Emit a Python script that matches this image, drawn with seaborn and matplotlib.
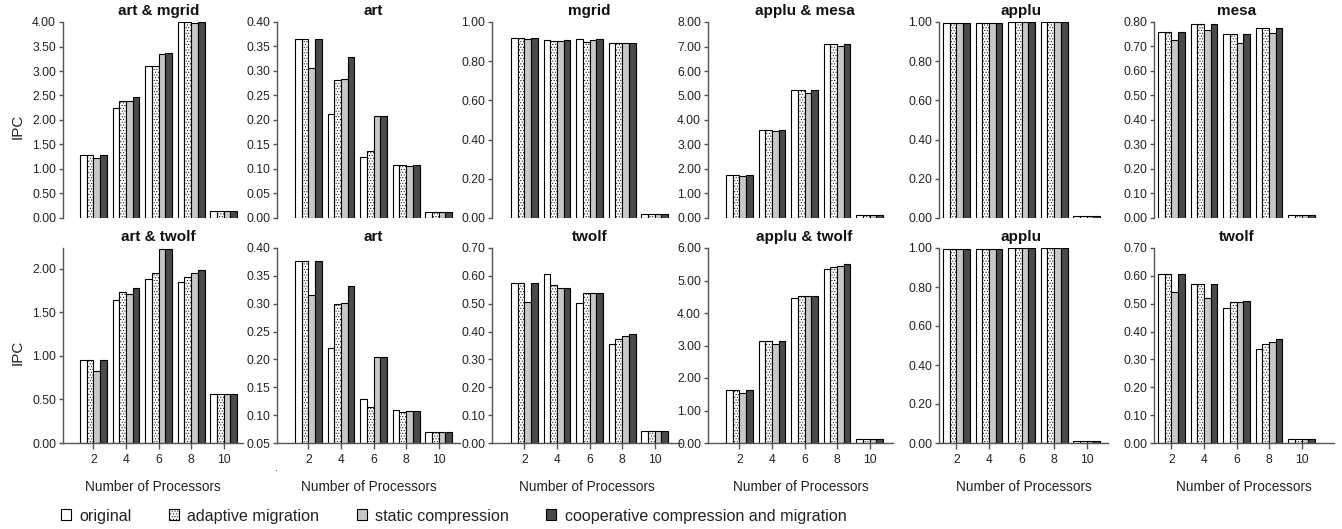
import numpy as np
import pandas as pd
import matplotlib
matplotlib.use("Agg")
import matplotlib.pyplot as plt
import matplotlib.transforms as mtransforms
from matplotlib.patches import Patch
import seaborn as sns

# ---------------- data ----------------
processors = ["2", "4", "6", "8", "10"]
series = ["original", "adaptive migration", "static compression",
          "cooperative compression and migration"]

# top row
art_mgrid = [[1.29, 2.25, 3.10, 3.99, 0.14],
             [1.29, 2.38, 3.10, 3.99, 0.14],
             [1.22, 2.38, 3.34, 3.98, 0.14],
             [1.29, 2.47, 3.36, 3.99, 0.14]]
art_top = [[0.365, 0.213, 0.124, 0.109, 0.012],
           [0.365, 0.281, 0.137, 0.109, 0.012],
           [0.306, 0.284, 0.208, 0.107, 0.012],
           [0.365, 0.329, 0.208, 0.109, 0.012]]
mgrid = [[0.917, 0.910, 0.912, 0.891, 0.019],
         [0.917, 0.905, 0.896, 0.891, 0.019],
         [0.912, 0.903, 0.906, 0.891, 0.019],
         [0.917, 0.906, 0.912, 0.891, 0.019]]
applu_mesa = [[1.75, 3.60, 5.23, 7.09, 0.12],
              [1.75, 3.60, 5.23, 7.09, 0.12],
              [1.71, 3.54, 5.12, 7.02, 0.12],
              [1.75, 3.60, 5.23, 7.09, 0.12]]
applu_top = [[0.995, 0.995, 0.998, 0.998, 0.010],
             [0.995, 0.995, 0.998, 0.998, 0.010],
             [0.995, 0.995, 0.998, 0.998, 0.010],
             [0.995, 0.995, 0.998, 0.998, 0.010]]
mesa = [[0.759, 0.792, 0.752, 0.777, 0.014],
        [0.759, 0.792, 0.752, 0.777, 0.014],
        [0.727, 0.769, 0.716, 0.756, 0.014],
        [0.759, 0.792, 0.752, 0.777, 0.014]]

# bottom row
art_twolf = [[0.948, 1.644, 1.889, 1.851, 0.566],
             [0.948, 1.732, 1.954, 1.908, 0.566],
             [0.826, 1.713, 2.230, 1.958, 0.566],
             [0.948, 1.778, 2.230, 1.992, 0.566]]
art_bottom = [[0.377, 0.221, 0.129, 0.110, 0.070],
              [0.377, 0.299, 0.114, 0.106, 0.070],
              [0.315, 0.301, 0.205, 0.108, 0.070],
              [0.377, 0.332, 0.205, 0.108, 0.070]]
twolf_mid = [[0.576, 0.605, 0.503, 0.356, 0.043],
             [0.576, 0.567, 0.539, 0.375, 0.043],
             [0.505, 0.558, 0.539, 0.385, 0.043],
             [0.576, 0.558, 0.539, 0.392, 0.043]]
applu_twolf = [[1.62, 3.13, 4.46, 5.36, 0.11],
               [1.62, 3.13, 4.52, 5.42, 0.11],
               [1.55, 3.04, 4.52, 5.46, 0.11],
               [1.62, 3.14, 4.53, 5.50, 0.11]]
applu_bottom = [[0.995, 0.997, 1.000, 1.000, 0.010],
                [0.995, 0.997, 1.000, 1.000, 0.010],
                [0.995, 0.997, 1.000, 1.000, 0.010],
                [0.995, 0.997, 1.000, 1.000, 0.010]]
twolf_right = [[0.608, 0.569, 0.486, 0.339, 0.014],
               [0.608, 0.569, 0.507, 0.355, 0.014],
               [0.542, 0.521, 0.507, 0.363, 0.014],
               [0.608, 0.569, 0.510, 0.373, 0.014]]

top_titles = ["art & mgrid", "art", "mgrid", "applu & mesa", "applu", "mesa"]
bottom_titles = ["art & twolf", "art", "twolf", "applu & twolf", "applu", "twolf"]
top_data = [art_mgrid, art_top, mgrid, applu_mesa, applu_top, mesa]
bottom_data = [art_twolf, art_bottom, twolf_mid, applu_twolf, applu_bottom, twolf_right]

# y-axis (ymin, ymax, tick0, tick1, step)
top_yaxis = [(0, 4.0, 0, 4.0, 0.5), (0, 0.40, 0, 0.40, 0.05), (0, 1.0, 0, 1.0, 0.2),
             (0, 8.0, 0, 8.0, 1.0), (0, 1.0, 0, 1.0, 0.2), (0, 0.80, 0, 0.80, 0.1)]
bottom_yaxis = [(0, 2.24, 0, 2.0, 0.5), (0.05, 0.40, 0.05, 0.40, 0.05), (0, 0.70, 0, 0.70, 0.1),
                (0, 6.0, 0, 6.0, 1.0), (0, 1.0, 0, 1.0, 0.2), (0, 0.70, 0, 0.70, 0.1)]

# ---------------- style ----------------
sns.set_theme(style="white")
plt.rcParams["font.family"] = ["Liberation Sans", "DejaVu Sans"]
plt.rcParams["hatch.linewidth"] = 0.4
plt.rcParams["hatch.color"] = "black"

W, H = 1342, 529
fig = plt.figure(figsize=(W / 100, H / 100), dpi=100)
fig.patch.set_facecolor("white")

palette = ["#ffffff", "#ffffff", "#c8c8c8", "#4a4a4a"]
hatches = ["", "......", "", ""]
spine_col = "#555555"

axis_x = [63, 277, 492, 708, 939, 1154]
first_group_left = [80, 295, 511, 726, 943, 1158]
right_px = [243, 460, 681, 893, 1108, 1334]
pitch = 32.6
group_w = 26.7
rows = [(22, 218), (248, 443)]  # (top px, bottom px)


def make_df(d):
    recs = []
    for s, vals in zip(series, d):
        for p, v in zip(processors, vals):
            recs.append({"proc": p, "series": s, "ipc": v})
    return pd.DataFrame(recs)


for r, (titles, datas, yaxes) in enumerate([(top_titles, top_data, top_yaxis),
                                             (bottom_titles, bottom_data, bottom_yaxis)]):
    top_px, bot_px = rows[r]
    for c in range(6):
        left = axis_x[c]
        right = right_px[c]
        ax = fig.add_axes([left / W, 1 - bot_px / H, (right - left) / W, (bot_px - top_px) / H])
        df = make_df(datas[c])
        sns.barplot(data=df, x="proc", y="ipc", hue="series", order=processors,
                    hue_order=series, palette=palette, width=group_w / pitch,
                    edgecolor="black", linewidth=0.8, legend=False, ax=ax,
                    saturation=1, err_kws={"linewidth": 0})
        for cont, h in zip(ax.containers, hatches):
            for b in cont:
                b.set_hatch(h)
        center0 = first_group_left[c] + group_w / 2
        ax.set_xlim((left - center0) / pitch, (right - center0) / pitch)
        ymin, ymax, t0, t1, st = yaxes[c]
        ax.set_ylim(ymin, ymax)
        ticks = np.arange(t0, t1 + st / 2, st)
        ax.set_yticks(ticks)
        ax.set_yticklabels([f"{t:.2f}" for t in ticks], fontsize=8.7, color="#222222")
        ax.set_xlabel("")
        ax.set_ylabel("")
        for s in ["top", "right"]:
            ax.spines[s].set_visible(False)
        ax.spines["left"].set_color(spine_col)
        ax.spines["left"].set_linewidth(1.0)
        ax.tick_params(axis="y", direction="out", length=3, width=1.0, color=spine_col,
                       pad=2, left=True)
        if r == 0:
            ax.spines["bottom"].set_visible(False)
            ax.set_xticks([])
        else:
            ax.spines["bottom"].set_color(spine_col)
            ax.spines["bottom"].set_linewidth(1.0)
            ax.set_xticks(range(5))
            ax.set_xticklabels(processors, fontsize=8.7, color="#222222")
            ax.tick_params(axis="x", direction="out", length=4, width=1.0, color=spine_col,
                           pad=4, bottom=True)
            ax.set_xlabel("Number of Processors", fontsize=9.8, color="#222222", labelpad=10)
        trans = mtransforms.blended_transform_factory(ax.transData, ax.transAxes)
        ax.text(2, 1.02, titles[c], transform=trans, ha="center", va="bottom",
                fontsize=11, fontweight="bold", color="#111111")
        ax.patch.set_alpha(0)

# IPC labels
fig.text(18 / W, 1 - 126 / H, "IPC", rotation=90, ha="center", va="center",
         fontsize=11, color="#222222")
fig.text(18 / W, 1 - 352 / H, "IPC", rotation=90, ha="center", va="center",
         fontsize=11, color="#222222")
fig.text(277 / W, 1 - 468 / H, ".", ha="center", va="center", fontsize=8, color="#222222")

# legend
handles = [Patch(facecolor=palette[i], edgecolor="black", hatch=hatches[i], linewidth=0.8)
           for i in range(4)]
leg = fig.legend(handles, series, loc="center left", bbox_to_anchor=(61 / W, 1 - 516 / H),
                 ncol=4, frameon=False, fontsize=11.6, handlelength=0.65, handleheight=0.65,
                 handletextpad=0.5, columnspacing=2.3, borderpad=0, borderaxespad=0)
for t in leg.get_texts():
    t.set_color("#222222")

fig.savefig("out.png", dpi=100, facecolor="white")
